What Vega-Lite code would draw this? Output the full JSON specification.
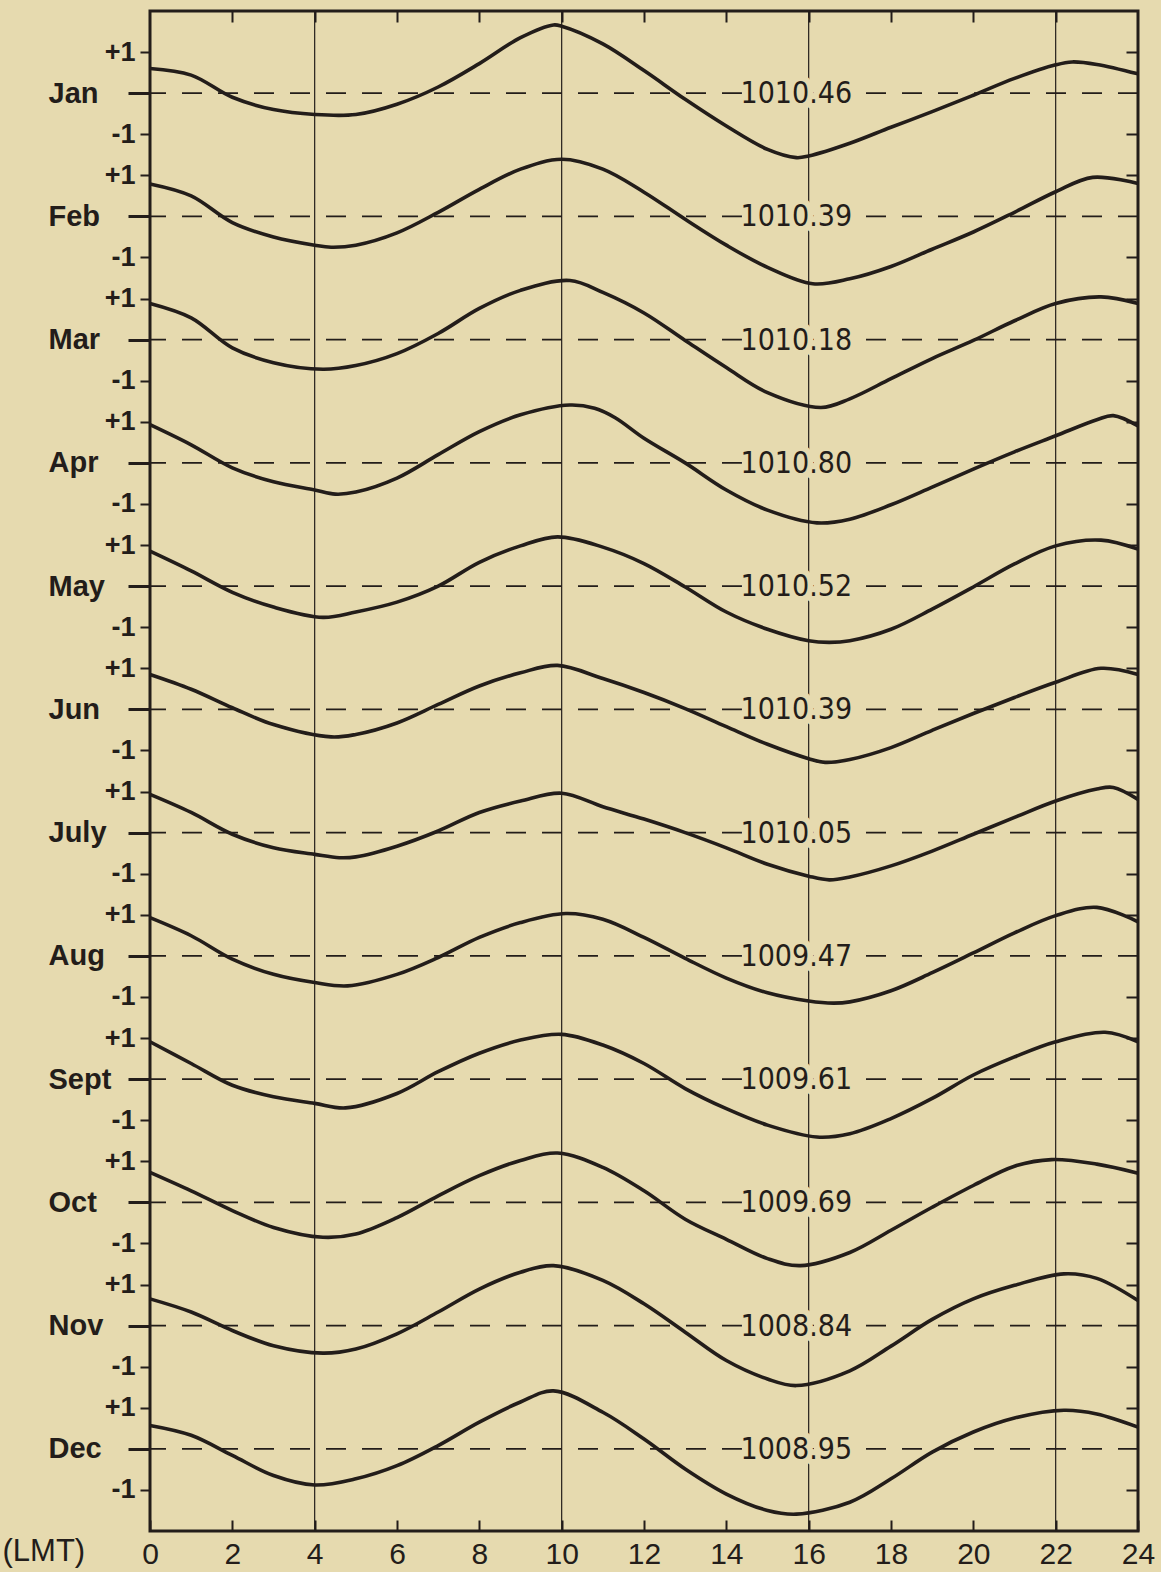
{
  "$schema": "https://vega.github.io/schema/vega-lite/v6.json",
  "width": 988,
  "height": 1520,
  "autosize": "none",
  "padding": {"left": 150, "top": 11, "right": 23, "bottom": 41},
  "background": "#e6daaf",
  "config": {"view": {"stroke": "#231d1a", "strokeWidth": 3}, "axis": {"grid": false}},
  "datasets": {
    "months": [
      {"m": "Jan", "k": 0, "p": "1010.46"}, {"m": "Feb", "k": 1, "p": "1010.39"}, {"m": "Mar", "k": 2, "p": "1010.18"},
      {"m": "Apr", "k": 3, "p": "1010.80"}, {"m": "May", "k": 4, "p": "1010.52"}, {"m": "Jun", "k": 5, "p": "1010.39"},
      {"m": "July", "k": 6, "p": "1010.05"}, {"m": "Aug", "k": 7, "p": "1009.47"}, {"m": "Sept", "k": 8, "p": "1009.61"},
      {"m": "Oct", "k": 9, "p": "1009.69"}, {"m": "Nov", "k": 10, "p": "1008.84"}, {"m": "Dec", "k": 11, "p": "1008.95"}
    ],
    "curves": [
      {"m":"Jan","h":0,"v":0.6},{"m":"Jan","h":1,"v":0.44},{"m":"Jan","h":2,"v":-0.1},{"m":"Jan","h":3,"v":-0.4},{"m":"Jan","h":4,"v":-0.52},{"m":"Jan","h":5,"v":-0.52},{"m":"Jan","h":6,"v":-0.27},{"m":"Jan","h":7,"v":0.15},{"m":"Jan","h":8,"v":0.72},{"m":"Jan","h":9,"v":1.35},{"m":"Jan","h":9.8,"v":1.66},{"m":"Jan","h":10,"v":1.63},{"m":"Jan","h":11,"v":1.2},{"m":"Jan","h":12,"v":0.55},{"m":"Jan","h":13,"v":-0.15},{"m":"Jan","h":14,"v":-0.8},{"m":"Jan","h":15,"v":-1.37},{"m":"Jan","h":15.7,"v":-1.57},{"m":"Jan","h":16,"v":-1.53},{"m":"Jan","h":17,"v":-1.22},{"m":"Jan","h":18,"v":-0.83},{"m":"Jan","h":19,"v":-0.45},{"m":"Jan","h":20,"v":-0.05},{"m":"Jan","h":21,"v":0.36},{"m":"Jan","h":22,"v":0.69},{"m":"Jan","h":22.4,"v":0.76},{"m":"Jan","h":23,"v":0.7},{"m":"Jan","h":24,"v":0.47},
      {"m":"Feb","h":0,"v":0.79},{"m":"Feb","h":1,"v":0.5},{"m":"Feb","h":2,"v":-0.15},{"m":"Feb","h":3,"v":-0.5},{"m":"Feb","h":4,"v":-0.7},{"m":"Feb","h":4.4,"v":-0.75},{"m":"Feb","h":5,"v":-0.7},{"m":"Feb","h":6,"v":-0.4},{"m":"Feb","h":7,"v":0.1},{"m":"Feb","h":8,"v":0.66},{"m":"Feb","h":9,"v":1.15},{"m":"Feb","h":10,"v":1.39},{"m":"Feb","h":11,"v":1.15},{"m":"Feb","h":12,"v":0.59},{"m":"Feb","h":13,"v":-0.07},{"m":"Feb","h":14,"v":-0.7},{"m":"Feb","h":15,"v":-1.24},{"m":"Feb","h":16.1,"v":-1.64},{"m":"Feb","h":17,"v":-1.52},{"m":"Feb","h":18,"v":-1.22},{"m":"Feb","h":19,"v":-0.8},{"m":"Feb","h":20,"v":-0.38},{"m":"Feb","h":21,"v":0.1},{"m":"Feb","h":22,"v":0.6},{"m":"Feb","h":22.9,"v":0.95},{"m":"Feb","h":24,"v":0.8},
      {"m":"Mar","h":0,"v":0.88},{"m":"Mar","h":1,"v":0.53},{"m":"Mar","h":2,"v":-0.2},{"m":"Mar","h":3,"v":-0.56},{"m":"Mar","h":4.2,"v":-0.72},{"m":"Mar","h":5,"v":-0.63},{"m":"Mar","h":6,"v":-0.34},{"m":"Mar","h":7,"v":0.15},{"m":"Mar","h":8,"v":0.76},{"m":"Mar","h":9,"v":1.2},{"m":"Mar","h":10.2,"v":1.44},{"m":"Mar","h":11,"v":1.15},{"m":"Mar","h":12,"v":0.65},{"m":"Mar","h":13,"v":-0.02},{"m":"Mar","h":14,"v":-0.68},{"m":"Mar","h":15,"v":-1.29},{"m":"Mar","h":16.3,"v":-1.65},{"m":"Mar","h":17,"v":-1.44},{"m":"Mar","h":18,"v":-0.95},{"m":"Mar","h":19,"v":-0.46},{"m":"Mar","h":20,"v":-0.02},{"m":"Mar","h":21,"v":0.46},{"m":"Mar","h":22,"v":0.88},{"m":"Mar","h":23.1,"v":1.04},{"m":"Mar","h":24,"v":0.88},
      {"m":"Apr","h":0,"v":0.93},{"m":"Apr","h":1,"v":0.44},{"m":"Apr","h":2,"v":-0.12},{"m":"Apr","h":3,"v":-0.46},{"m":"Apr","h":4,"v":-0.66},{"m":"Apr","h":4.5,"v":-0.76},{"m":"Apr","h":5,"v":-0.71},{"m":"Apr","h":6,"v":-0.37},{"m":"Apr","h":7,"v":0.2},{"m":"Apr","h":8,"v":0.76},{"m":"Apr","h":9,"v":1.17},{"m":"Apr","h":10.2,"v":1.41},{"m":"Apr","h":10.8,"v":1.33},{"m":"Apr","h":11.3,"v":1.1},{"m":"Apr","h":12,"v":0.6},{"m":"Apr","h":13,"v":0},{"m":"Apr","h":14,"v":-0.66},{"m":"Apr","h":15,"v":-1.15},{"m":"Apr","h":16.2,"v":-1.46},{"m":"Apr","h":17,"v":-1.37},{"m":"Apr","h":18,"v":-1.02},{"m":"Apr","h":19,"v":-0.59},{"m":"Apr","h":20,"v":-0.15},{"m":"Apr","h":21,"v":0.27},{"m":"Apr","h":22,"v":0.66},{"m":"Apr","h":23,"v":1.05},{"m":"Apr","h":23.4,"v":1.15},{"m":"Apr","h":24,"v":0.9},
      {"m":"May","h":0,"v":0.85},{"m":"May","h":1,"v":0.37},{"m":"May","h":2,"v":-0.15},{"m":"May","h":3,"v":-0.51},{"m":"May","h":4.2,"v":-0.76},{"m":"May","h":5,"v":-0.63},{"m":"May","h":6,"v":-0.39},{"m":"May","h":7,"v":0},{"m":"May","h":8,"v":0.58},{"m":"May","h":9,"v":0.98},{"m":"May","h":9.9,"v":1.2},{"m":"May","h":11,"v":0.95},{"m":"May","h":12,"v":0.55},{"m":"May","h":13,"v":-0.02},{"m":"May","h":14,"v":-0.63},{"m":"May","h":15,"v":-1.05},{"m":"May","h":16,"v":-1.33},{"m":"May","h":16.5,"v":-1.37},{"m":"May","h":17,"v":-1.33},{"m":"May","h":18,"v":-1.05},{"m":"May","h":19,"v":-0.56},{"m":"May","h":20,"v":-0.02},{"m":"May","h":21,"v":0.54},{"m":"May","h":22,"v":0.98},{"m":"May","h":23.1,"v":1.12},{"m":"May","h":24,"v":0.9},
      {"m":"Jun","h":0,"v":0.85},{"m":"Jun","h":1,"v":0.49},{"m":"Jun","h":2,"v":0.04},{"m":"Jun","h":3,"v":-0.37},{"m":"Jun","h":4.4,"v":-0.67},{"m":"Jun","h":5,"v":-0.61},{"m":"Jun","h":6,"v":-0.33},{"m":"Jun","h":7,"v":0.12},{"m":"Jun","h":8,"v":0.57},{"m":"Jun","h":9,"v":0.89},{"m":"Jun","h":9.9,"v":1.07},{"m":"Jun","h":11,"v":0.75},{"m":"Jun","h":12,"v":0.41},{"m":"Jun","h":13,"v":0.02},{"m":"Jun","h":14,"v":-0.42},{"m":"Jun","h":15,"v":-0.85},{"m":"Jun","h":16,"v":-1.2},{"m":"Jun","h":16.4,"v":-1.29},{"m":"Jun","h":17,"v":-1.22},{"m":"Jun","h":18,"v":-0.93},{"m":"Jun","h":19,"v":-0.51},{"m":"Jun","h":20,"v":-0.1},{"m":"Jun","h":21,"v":0.29},{"m":"Jun","h":22,"v":0.66},{"m":"Jun","h":23.1,"v":1.0},{"m":"Jun","h":24,"v":0.85},
      {"m":"July","h":0,"v":0.93},{"m":"July","h":1,"v":0.49},{"m":"July","h":2,"v":-0.04},{"m":"July","h":3,"v":-0.37},{"m":"July","h":4,"v":-0.53},{"m":"July","h":4.6,"v":-0.61},{"m":"July","h":5,"v":-0.59},{"m":"July","h":6,"v":-0.33},{"m":"July","h":7,"v":0.04},{"m":"July","h":8,"v":0.49},{"m":"July","h":9,"v":0.77},{"m":"July","h":10,"v":0.96},{"m":"July","h":11,"v":0.63},{"m":"July","h":12,"v":0.33},{"m":"July","h":13,"v":0},{"m":"July","h":14,"v":-0.37},{"m":"July","h":15,"v":-0.77},{"m":"July","h":16,"v":-1.06},{"m":"July","h":16.5,"v":-1.15},{"m":"July","h":17,"v":-1.08},{"m":"July","h":18,"v":-0.81},{"m":"July","h":19,"v":-0.45},{"m":"July","h":20,"v":-0.04},{"m":"July","h":21,"v":0.37},{"m":"July","h":22,"v":0.77},{"m":"July","h":23,"v":1.06},{"m":"July","h":23.4,"v":1.1},{"m":"July","h":24,"v":0.81},
      {"m":"Aug","h":0,"v":0.93},{"m":"Aug","h":1,"v":0.49},{"m":"Aug","h":2,"v":-0.08},{"m":"Aug","h":3,"v":-0.45},{"m":"Aug","h":4,"v":-0.65},{"m":"Aug","h":4.8,"v":-0.73},{"m":"Aug","h":6,"v":-0.45},{"m":"Aug","h":7,"v":-0.04},{"m":"Aug","h":8,"v":0.45},{"m":"Aug","h":9,"v":0.81},{"m":"Aug","h":10.1,"v":1.03},{"m":"Aug","h":11,"v":0.89},{"m":"Aug","h":12,"v":0.45},{"m":"Aug","h":13,"v":-0.06},{"m":"Aug","h":14,"v":-0.54},{"m":"Aug","h":15,"v":-0.9},{"m":"Aug","h":16,"v":-1.1},{"m":"Aug","h":16.6,"v":-1.15},{"m":"Aug","h":17,"v":-1.12},{"m":"Aug","h":18,"v":-0.85},{"m":"Aug","h":19,"v":-0.41},{"m":"Aug","h":20,"v":0.07},{"m":"Aug","h":21,"v":0.56},{"m":"Aug","h":22,"v":0.98},{"m":"Aug","h":23,"v":1.18},{"m":"Aug","h":24,"v":0.83},
      {"m":"Sept","h":0,"v":0.91},{"m":"Sept","h":1,"v":0.38},{"m":"Sept","h":2,"v":-0.15},{"m":"Sept","h":3,"v":-0.43},{"m":"Sept","h":4,"v":-0.59},{"m":"Sept","h":4.75,"v":-0.7},{"m":"Sept","h":6,"v":-0.35},{"m":"Sept","h":7,"v":0.18},{"m":"Sept","h":8,"v":0.63},{"m":"Sept","h":9,"v":0.95},{"m":"Sept","h":10,"v":1.09},{"m":"Sept","h":11,"v":0.83},{"m":"Sept","h":12,"v":0.38},{"m":"Sept","h":13,"v":-0.23},{"m":"Sept","h":14,"v":-0.72},{"m":"Sept","h":15,"v":-1.12},{"m":"Sept","h":16.2,"v":-1.41},{"m":"Sept","h":17,"v":-1.33},{"m":"Sept","h":18,"v":-0.96},{"m":"Sept","h":19,"v":-0.47},{"m":"Sept","h":20,"v":0.1},{"m":"Sept","h":21,"v":0.54},{"m":"Sept","h":22,"v":0.91},{"m":"Sept","h":23.2,"v":1.14},{"m":"Sept","h":24,"v":0.91},
      {"m":"Oct","h":0,"v":0.73},{"m":"Oct","h":1,"v":0.28},{"m":"Oct","h":2,"v":-0.2},{"m":"Oct","h":3,"v":-0.61},{"m":"Oct","h":4.2,"v":-0.85},{"m":"Oct","h":5,"v":-0.77},{"m":"Oct","h":6,"v":-0.37},{"m":"Oct","h":7,"v":0.16},{"m":"Oct","h":8,"v":0.65},{"m":"Oct","h":9,"v":1.02},{"m":"Oct","h":9.9,"v":1.2},{"m":"Oct","h":11,"v":0.85},{"m":"Oct","h":12,"v":0.28},{"m":"Oct","h":13,"v":-0.41},{"m":"Oct","h":14,"v":-0.9},{"m":"Oct","h":15,"v":-1.37},{"m":"Oct","h":15.8,"v":-1.54},{"m":"Oct","h":17,"v":-1.22},{"m":"Oct","h":18,"v":-0.68},{"m":"Oct","h":19,"v":-0.12},{"m":"Oct","h":20,"v":0.41},{"m":"Oct","h":21,"v":0.88},{"m":"Oct","h":21.9,"v":1.04},{"m":"Oct","h":23,"v":0.93},{"m":"Oct","h":24,"v":0.71},
      {"m":"Nov","h":0,"v":0.65},{"m":"Nov","h":1,"v":0.33},{"m":"Nov","h":2,"v":-0.12},{"m":"Nov","h":3,"v":-0.49},{"m":"Nov","h":4.2,"v":-0.67},{"m":"Nov","h":5,"v":-0.57},{"m":"Nov","h":6,"v":-0.2},{"m":"Nov","h":7,"v":0.33},{"m":"Nov","h":8,"v":0.89},{"m":"Nov","h":9,"v":1.3},{"m":"Nov","h":9.8,"v":1.46},{"m":"Nov","h":11,"v":1.1},{"m":"Nov","h":12,"v":0.53},{"m":"Nov","h":13,"v":-0.16},{"m":"Nov","h":14,"v":-0.85},{"m":"Nov","h":15,"v":-1.3},{"m":"Nov","h":15.7,"v":-1.46},{"m":"Nov","h":17,"v":-1.1},{"m":"Nov","h":18,"v":-0.5},{"m":"Nov","h":19,"v":0.15},{"m":"Nov","h":20,"v":0.65},{"m":"Nov","h":21,"v":0.98},{"m":"Nov","h":22.2,"v":1.26},{"m":"Nov","h":23,"v":1.15},{"m":"Nov","h":24,"v":0.61},
      {"m":"Dec","h":0,"v":0.57},{"m":"Dec","h":1,"v":0.33},{"m":"Dec","h":2,"v":-0.16},{"m":"Dec","h":3,"v":-0.65},{"m":"Dec","h":4,"v":-0.88},{"m":"Dec","h":5,"v":-0.73},{"m":"Dec","h":6,"v":-0.41},{"m":"Dec","h":7,"v":0.08},{"m":"Dec","h":8,"v":0.65},{"m":"Dec","h":9,"v":1.14},{"m":"Dec","h":9.8,"v":1.41},{"m":"Dec","h":11,"v":0.89},{"m":"Dec","h":12,"v":0.24},{"m":"Dec","h":13,"v":-0.49},{"m":"Dec","h":14,"v":-1.1},{"m":"Dec","h":15,"v":-1.5},{"m":"Dec","h":15.7,"v":-1.59},{"m":"Dec","h":17,"v":-1.3},{"m":"Dec","h":18,"v":-0.73},{"m":"Dec","h":19,"v":-0.08},{"m":"Dec","h":20,"v":0.41},{"m":"Dec","h":21,"v":0.75},{"m":"Dec","h":22.2,"v":0.94},{"m":"Dec","h":23,"v":0.85},{"m":"Dec","h":24,"v":0.53}
    ]
  },
  "resolve": {"axis": {"x": "independent", "y": "independent"}},
  "layer": [
    {
      "data": {"values": [{"h": 4}, {"h": 10}, {"h": 16}, {"h": 22}]},
      "mark": {"type": "rule", "stroke": "#231d1a", "strokeWidth": 1.2},
      "encoding": {
        "x": {"field": "h", "type": "quantitative", "scale": {"domain": [0, 24], "nice": false},
          "axis": {"orient": "bottom", "values": [0,2,4,6,8,10,12,14,16,18,20,22,24], "tickSize": -11, "tickWidth": 2, "tickColor": "#231d1a",
            "domain": false, "labelFont": "Liberation Sans", "labelFontSize": 30, "labelColor": "#231d1a", "labelPadding": 34,
            "labelBaseline": "middle", "labelFlush": false, "labelOverlap": false,
            "title": "(LMT)", "titleFont": "Liberation Sans", "titleFontSize": 31, "titleFontWeight": "normal", "titleColor": "#231d1a",
            "titleX": -148, "titleY": 20, "titleAlign": "left", "titleBaseline": "middle", "titleAnchor": "start"}}
      }
    },
    {
      "data": {"name": "months"},
      "transform": [{"calculate": "-3*datum.k", "as": "base"}],
      "mark": {"type": "rule", "stroke": "#231d1a", "strokeWidth": 1.6, "strokeDash": [20, 16]},
      "encoding": {
        "y": {"field": "base", "type": "quantitative", "scale": {"domain": [-35, 2], "nice": false, "zero": false},
          "axis": {"orient": "left", "values": [1,0,-1,-2,-3,-4,-5,-6,-7,-8,-9,-10,-11,-12,-13,-14,-15,-16,-17,-18,-19,-20,-21,-22,-23,-24,-25,-26,-27,-28,-29,-30,-31,-32,-33,-34],
            "labelExpr": "((datum.value%3)+3)%3 == 0 ? ['Jan','Feb','Mar','Apr','May','Jun','July','Aug','Sept','Oct','Nov','Dec'][round(-datum.value/3)] : ((((datum.value%3)+3)%3 == 1) ? '+1' : '-1')",
            "domain": false, "title": null, "labelOverlap": false, "labelFlush": false,
            "labelFont": "Liberation Sans", "labelFontWeight": "bold", "labelColor": "#231d1a", "labelBaseline": "middle",
            "labelFontSize": {"condition": {"test": "((datum.value%3)+3)%3 == 0", "value": 29}, "value": 27},
            "labelAlign": {"condition": {"test": "((datum.value%3)+3)%3 == 0", "value": "left"}, "value": "right"},
            "labelPadding": {"condition": {"test": "((datum.value%3)+3)%3 == 0", "value": 80}, "value": 5},
            "tickSize": {"condition": {"test": "((datum.value%3)+3)%3 == 0", "value": 22}, "value": 10},
            "tickWidth": {"condition": {"test": "((datum.value%3)+3)%3 == 0", "value": 3}, "value": 2},
            "tickColor": "#231d1a"}}
      }
    },
    {
      "data": {"name": "curves"},
      "transform": [
        {"lookup": "m", "from": {"data": {"name": "months"}, "key": "m", "fields": ["k"]}},
        {"calculate": "datum.v - 3*datum.k", "as": "y"}
      ],
      "mark": {"type": "line", "interpolate": "catmull-rom", "stroke": "#231d1a", "strokeWidth": 3.6},
      "encoding": {
        "x": {"field": "h", "type": "quantitative", "scale": {"domain": [0, 24], "nice": false},
          "axis": {"orient": "top", "values": [2,4,6,8,10,12,14,16,18,20,22], "tickSize": -11, "tickWidth": 2, "tickColor": "#231d1a", "labels": false, "domain": false, "title": null}},
        "y": {"field": "y", "type": "quantitative", "scale": {"domain": [-35, 2], "nice": false, "zero": false},
          "axis": {"orient": "right", "values": [1,-1,-2,-4,-5,-7,-8,-10,-11,-13,-14,-16,-17,-19,-20,-22,-23,-25,-26,-28,-29,-31,-32,-34],
            "tickSize": -12, "tickWidth": 2, "tickColor": "#231d1a", "labels": false, "domain": false, "title": null}},
        "detail": {"field": "m"}
      }
    },
    {
      "data": {"name": "months"},
      "transform": [{"calculate": "-3*datum.k", "as": "base"}],
      "mark": {"type": "text", "font": "DejaVu Sans Condensed, sans-serif", "fontSize": 30, "stroke": "#e6daaf", "strokeWidth": 12, "strokeJoin": "round", "fill": "#e6daaf", "baseline": "middle", "align": "center", "dy": 1},
      "encoding": {
        "x": {"datum": 15.7, "type": "quantitative", "axis": null},
        "y": {"field": "base", "type": "quantitative", "axis": null},
        "text": {"field": "p"}
      }
    },
    {
      "data": {"name": "months"},
      "transform": [{"calculate": "-3*datum.k", "as": "base"}],
      "mark": {"type": "text", "font": "DejaVu Sans Condensed, sans-serif", "fontSize": 30, "fill": "#231d1a", "baseline": "middle", "align": "center", "dy": 1},
      "encoding": {
        "x": {"datum": 15.7, "type": "quantitative", "axis": null},
        "y": {"field": "base", "type": "quantitative", "axis": null},
        "text": {"field": "p"}
      }
    }
  ]
}
